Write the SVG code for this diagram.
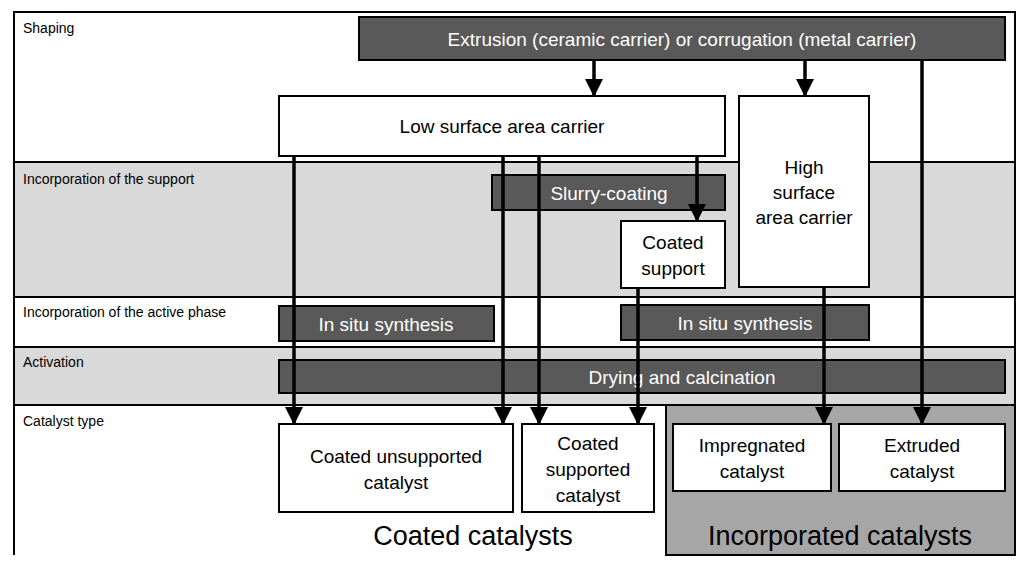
<svg xmlns="http://www.w3.org/2000/svg" width="1024" height="568" viewBox="0 0 1024 568">
<style>
text{font-family:"Liberation Sans",Arial,sans-serif}
.lab{font-size:14px;fill:#000}
.d{fill:#595959;stroke:#000;stroke-width:2}
.w{fill:#fff;stroke:#000;stroke-width:2}
.dt{font-size:19px;fill:#fff;text-anchor:middle}
.wt{font-size:19px;fill:#000;text-anchor:middle}
.big{font-size:27px;fill:#000;text-anchor:middle}
.c{stroke:#000;stroke-width:3.5;fill:none;marker-end:url(#a)}
</style>
<defs><marker id="a" markerUnits="userSpaceOnUse" markerWidth="18" markerHeight="18" refX="17" refY="9" orient="auto"><path d="M0,0L18,9L0,18Z" fill="#000"/></marker></defs>
<rect width="1024" height="568" fill="#fff"/>
<g id="bands" stroke="#000" stroke-width="2">
<rect x="14" y="162" width="1001" height="135" fill="#d9d9d9"/>
<rect x="14" y="347" width="1001" height="58" fill="#d9d9d9"/>
<rect x="666" y="405" width="349" height="150" fill="#a6a6a6"/>
<path d="M14,555V12H1015V555" fill="none"/>
<path d="M14,405H1015" fill="none"/>
</g>
<g id="labels">
<text class="lab" x="23" y="33">Shaping</text>
<text class="lab" x="23" y="184">Incorporation of the support</text>
<text class="lab" x="23" y="317">Incorporation of the active phase</text>
<text class="lab" x="23" y="367">Activation</text>
<text class="lab" x="23" y="426">Catalyst type</text>
<text class="big" x="473" y="545">Coated catalysts</text>
<text class="big" x="840" y="545">Incorporated catalysts</text>
</g>
<g id="extrusion"><rect class="d" x="359" y="17" width="646" height="43"/><text class="dt" x="682" y="46">Extrusion (ceramic carrier) or corrugation (metal carrier)</text></g>
<g id="low"><rect class="w" x="279" y="96" width="446" height="60"/><text class="wt" x="502" y="133">Low surface area carrier</text></g>
<g id="high"><rect class="w" x="739" y="96" width="130" height="191"/><text class="wt" x="804" y="174">High</text><text class="wt" x="804" y="199">surface</text><text class="wt" x="804" y="224">area carrier</text></g>
<g id="slurry"><rect class="d" x="492" y="175" width="233" height="35"/><text class="dt" x="609" y="200">Slurry-coating</text></g>
<g id="coatedsupport"><rect class="w" x="621" y="221" width="104" height="67"/><text class="wt" x="673" y="249">Coated</text><text class="wt" x="673" y="275">support</text></g>
<g id="insitu1"><rect class="d" x="279" y="306" width="215" height="35"/><text class="dt" x="386" y="331">In situ synthesis</text></g>
<g id="insitu2"><rect class="d" x="621" y="305" width="248" height="35"/><text class="dt" x="745" y="330">In situ synthesis</text></g>
<g id="drying"><rect class="d" x="279" y="360" width="726" height="33"/><text class="dt" x="682" y="384">Drying and calcination</text></g>
<g id="cu"><rect class="w" x="279" y="424" width="234" height="88"/><text class="wt" x="396" y="463">Coated unsupported</text><text class="wt" x="396" y="489">catalyst</text></g>
<g id="cs"><rect class="w" x="522" y="424" width="132" height="88"/><text class="wt" x="588" y="450">Coated</text><text class="wt" x="588" y="476">supported</text><text class="wt" x="588" y="502">catalyst</text></g>
<g id="imp"><rect class="w" x="673" y="424" width="158" height="67"/><text class="wt" x="752" y="452">Impregnated</text><text class="wt" x="752" y="478">catalyst</text></g>
<g id="ext"><rect class="w" x="839" y="424" width="166" height="67"/><text class="wt" x="922" y="452">Extruded</text><text class="wt" x="922" y="478">catalyst</text></g>
<g id="connectors">
<path class="c" d="M594,60V96"/>
<path class="c" d="M805,60V96"/>
<path class="c" d="M922,60V424"/>
<path class="c" d="M294,156V424"/>
<path class="c" d="M503,156V424"/>
<path class="c" d="M539,156V424"/>
<path class="c" d="M697,156V221"/>
<path class="c" d="M638,288V424"/>
<path class="c" d="M824,287V424"/>
</g>
</svg>
